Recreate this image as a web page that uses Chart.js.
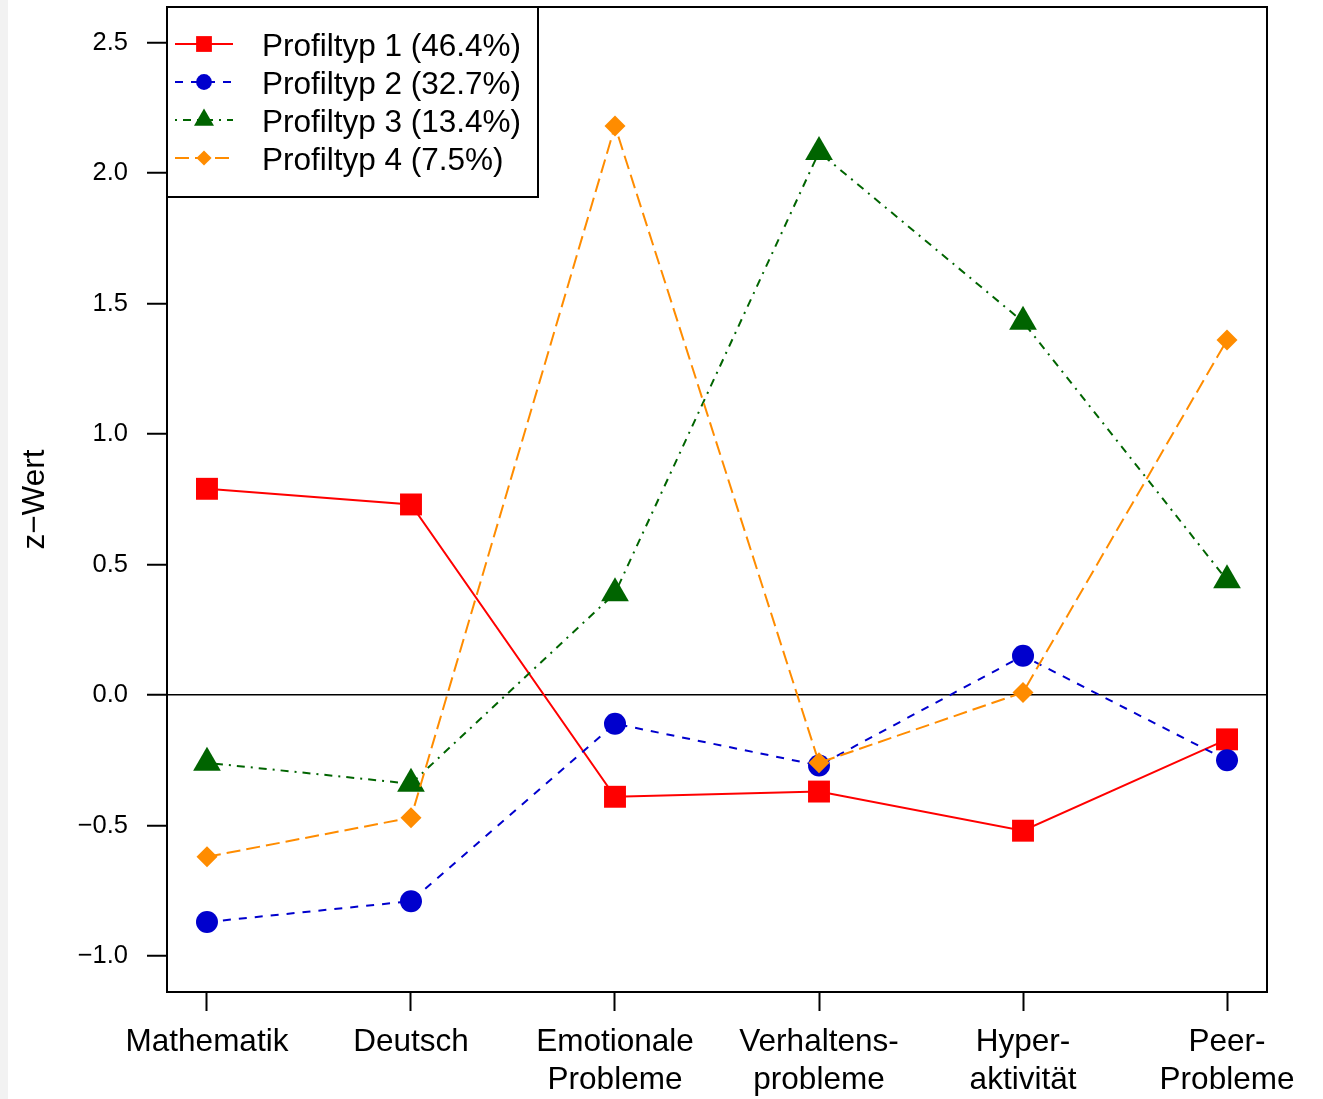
<!DOCTYPE html>
<html>
<head>
<meta charset="utf-8">
<script src="https://cdn.jsdelivr.net/npm/chart.js@4/dist/chart.umd.min.js"></script>
<style>
    html, body { margin: 0; padding: 0; background: #fff; }
    #strip { position: absolute; left: 0; top: 0; width: 8px; height: 1099px; background: #f2f2f2; }
    #profileChart { position: absolute; left: 0; top: 0; }
</style>
</head>
<body>
<div id="strip"></div>
<canvas id="profileChart" width="1323" height="1099"></canvas>
<script>
// categories (x axis), one entry per tick, multi-line labels as arrays
const categories = [
    ['Mathematik'],
    ['Deutsch'],
    ['Emotionale', 'Probleme'],
    ['Verhaltens-', 'probleme'],
    ['Hyper-', 'aktivität'],
    ['Peer-', 'Probleme'],
];

const seriesLabels = [
    'Profiltyp 1 (46.4%)',
    'Profiltyp 2 (32.7%)',
    'Profiltyp 3 (13.4%)',
    'Profiltyp 4 (7.5%)',
];

// z-values
const profil1 = [0.79, 0.73, -0.39, -0.37, -0.52, -0.17];
const profil2 = [-0.87, -0.79, -0.11, -0.27, 0.15, -0.25];
const profil3 = [-0.26, -0.34, 0.39, 2.08, 1.43, 0.44];
const profil4 = [-0.62, -0.47, 2.18, -0.26, 0.01, 1.36];

const yTicks = [-1.0, -0.5, 0.0, 0.5, 1.0, 1.5, 2.0, 2.5];
const xTicks = [0, 1, 2, 3, 4, 5];

const FONT = '"Liberation Sans", Arial, Helvetica, sans-serif';

const toPoints = (values) => values.map((v, i) => ({ x: i, y: v }));

// box round the plot region
const plotFrame = {
    id: 'plotFrame',
    afterDraw(chart) {
        const { ctx, chartArea } = chart;
        ctx.save();
        ctx.strokeStyle = '#000';
        ctx.lineWidth = 2;
        ctx.strokeRect(chartArea.left, chartArea.top,
            chartArea.right - chartArea.left, chartArea.bottom - chartArea.top);
        ctx.restore();
    }
};

// R style legend: line sample with marker in the middle
const lineLegend = {
    id: 'lineLegend',
    afterDraw(chart) {
        const { ctx, chartArea } = chart;
        const x0 = chartArea.left;
        const y0 = chartArea.top;
        ctx.save();
        ctx.fillStyle = '#fff';
        ctx.fillRect(x0, y0, 371, 190);
        ctx.strokeStyle = '#000';
        ctx.lineWidth = 2;
        ctx.strokeRect(x0, y0, 371, 190);

        chart.data.datasets.forEach((ds, i) => {
            const y = y0 + 37 + i * 38;
            ctx.strokeStyle = ds.borderColor;
            ctx.lineWidth = 2;
            ctx.setLineDash(ds.borderDash);
            ctx.beginPath();
            ctx.moveTo(x0 + 8, y);
            ctx.lineTo(x0 + 66, y);
            ctx.stroke();
            ctx.setLineDash([]);

            ctx.fillStyle = ds.backgroundColor;
            Chart.helpers.drawPoint(ctx, {
                pointStyle: ds.pointStyle,
                radius: ds.pointRadius * 0.72,
                rotation: 0,
                borderWidth: 0
            }, x0 + 37, y);

            ctx.fillStyle = '#000';
            ctx.font = '31.5px ' + FONT;
            ctx.textAlign = 'left';
            ctx.textBaseline = 'alphabetic';
            ctx.fillText(ds.label, x0 + 95, y + 12);
        });
        ctx.restore();
    }
};

const makeSet = (label, values, color, dash, style, radius, order) => ({
    label: label,
    data: toPoints(values),
    borderColor: color,
    backgroundColor: color,
    borderWidth: 2,
    borderDash: dash,
    borderCapStyle: 'butt',
    pointStyle: style,
    pointRadius: radius,
    pointHoverRadius: radius,
    pointBorderWidth: 0,
    tension: 0,
    fill: false,
    order: order,
});

const ctx = document.getElementById('profileChart').getContext('2d');
const chart = new Chart(ctx, {
    type: 'line',
    data: {
        datasets: [
            makeSet(seriesLabels[0], profil1, '#ff0000', [], 'rect', 15.5, 3),
            makeSet(seriesLabels[1], profil2, '#0000cd', [8, 8], 'circle', 11, 2),
            makeSet(seriesLabels[2], profil3, '#006400', [2, 6, 8, 6], 'triangle', 16, 1),
            makeSet(seriesLabels[3], profil4, '#ff8c00', [14, 6], 'rectRot', 10.5, 0),
        ]
    },
    options: {
        responsive: false,
        animation: false,
        devicePixelRatio: 1,
        layout: {
            autoPadding: false,
            padding: { top: 7, right: 56, bottom: 0, left: 0 }
        },
        plugins: {
            legend: { display: false },
            tooltip: { enabled: false },
        },
        scales: {
            x: {
                type: 'linear',
                position: 'bottom',
                min: -0.196,
                max: 5.196,
                border: { display: false },
                grid: {
                    drawOnChartArea: false,
                    drawTicks: true,
                    tickLength: 19,
                    tickWidth: 2,
                    tickColor: '#000',
                },
                ticks: {
                    autoSkip: false,
                    maxRotation: 0,
                    minRotation: 0,
                    padding: 12,
                    color: '#000',
                    font: { family: FONT, size: 31.5, lineHeight: 1.222 },
                    callback: (value) => categories[value],
                },
                afterBuildTicks: (scale) => {
                    scale.ticks = xTicks.map(v => ({ value: v }));
                },
                afterFit: (scale) => {
                    scale.height = 107;
                    scale.paddingLeft = 0;
                    scale.paddingRight = 0;
                },
            },
            y: {
                type: 'linear',
                position: 'left',
                min: -1.138,
                max: 2.636,
                border: { display: false },
                grid: {
                    color: (c) => (c.tick && c.tick.value === 0) ? '#000' : 'rgba(0,0,0,0)',
                    lineWidth: 1.5,
                    drawTicks: true,
                    tickLength: 20,
                    tickWidth: 2,
                    tickColor: '#000',
                },
                ticks: {
                    padding: 19,
                    color: '#000',
                    font: { family: FONT, size: 25.5 },
                    callback: (value) => value.toFixed(1).replace('-', '\u2212'),
                },
                title: {
                    display: true,
                    text: 'z\u2212Wert',
                    color: '#000',
                    font: { family: FONT, size: 31.5 },
                    padding: { top: 16, bottom: 0 },
                },
                afterBuildTicks: (scale) => {
                    scale.ticks = yTicks.map(v => ({ value: v }));
                },
                afterFit: (scale) => {
                    scale.width = 167;
                    scale.paddingTop = 0;
                    scale.paddingBottom = 0;
                },
            },
        },
    },
    plugins: [plotFrame, lineLegend],
});
</script>
</body>
</html>
